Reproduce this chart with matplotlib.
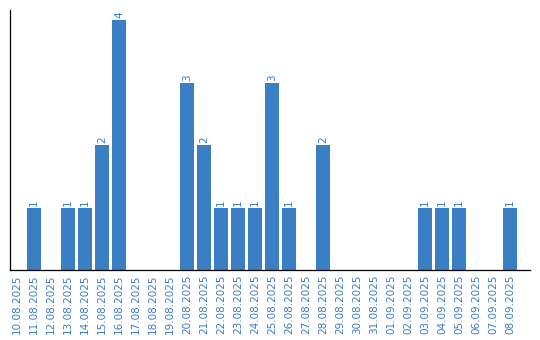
import matplotlib
matplotlib.use("Agg")
import matplotlib.pyplot as plt

dates = ["10.08.2025", "11.08.2025", "12.08.2025", "13.08.2025", "14.08.2025",
         "15.08.2025", "16.08.2025", "17.08.2025", "18.08.2025", "19.08.2025",
         "20.08.2025", "21.08.2025", "22.08.2025", "23.08.2025", "24.08.2025",
         "25.08.2025", "26.08.2025", "27.08.2025", "28.08.2025", "29.08.2025",
         "30.08.2025", "31.08.2025", "01.09.2025", "02.09.2025", "03.09.2025",
         "04.09.2025", "05.09.2025", "06.09.2025", "07.09.2025", "08.09.2025"]
counts = [0, 1, 0, 1, 1, 2, 4, 0, 0, 0,
          3, 2, 1, 1, 1, 3, 1, 0, 2, 0,
          0, 0, 0, 0, 1, 1, 1, 0, 0, 1]

BLUE = "#3a7ec4"
LABEL = "#3a7ec4"

fig = plt.figure(figsize=(5.4, 3.4), dpi=100)
ax = fig.add_axes([10 / 540, 70 / 340, 520 / 540, 260 / 340])

x = list(range(len(dates)))
ax.bar(x, counts, width=0.82, color=BLUE)
for xi, c in zip(x, counts):
    if c > 0:
        ax.text(xi, c + 0.03, str(c), rotation=90, ha="center", va="bottom",
                color=LABEL, fontsize=7.5)

ax.set_xlim(-0.41, 30.18)
ax.set_ylim(0, 4.16)
ax.set_xticks(x)
ax.set_xticklabels(dates, rotation=90, color=LABEL, fontsize=7.5)
ax.tick_params(axis="x", length=0, pad=3)
ax.set_yticks([])
for s in ("top", "right"):
    ax.spines[s].set_visible(False)
ax.spines["left"].set_linewidth(0.9)
ax.spines["bottom"].set_linewidth(0.9)

fig.savefig("out.png", dpi=100)
